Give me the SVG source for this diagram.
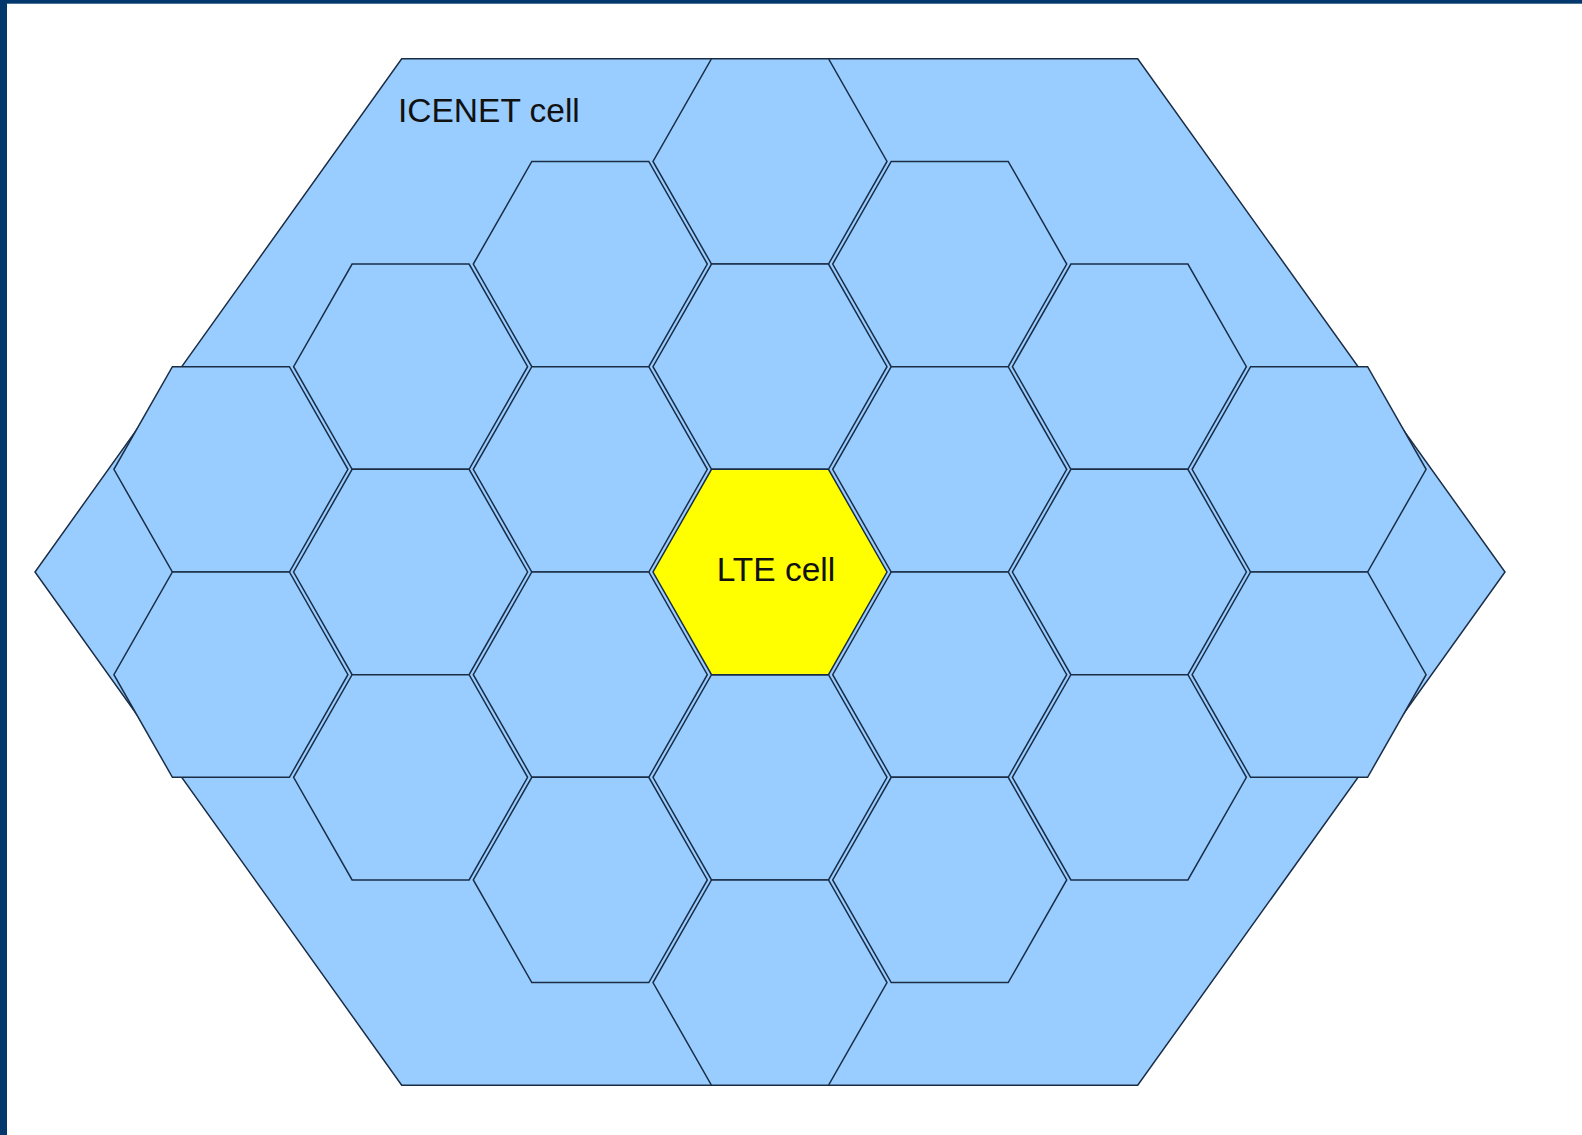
<svg xmlns="http://www.w3.org/2000/svg" width="1582" height="1135" viewBox="0 0 1582 1135">
<style>
.cell{fill:#99ccff;stroke:#1a2d45;stroke-width:1.5;stroke-linejoin:miter}
.lte{fill:#ffff00;stroke:#1a2d45;stroke-width:1.5}
.lbl{font-family:"Liberation Sans",Arial,sans-serif;font-size:33.5px;fill:#111111}
</style>
<defs>
<polygon id="hx" points="-58.5,-102.65 58.5,-102.65 117,0 58.5,102.65 -58.5,102.65 -117,0"/>
</defs>
<rect x="0" y="0" width="1582" height="1135" fill="#ffffff"/>
<rect x="0" y="0" width="1582" height="3.7" fill="#02386b"/>
<rect x="0" y="0" width="7" height="1135" fill="#02386b"/>
<g id="icenet-cell">
<polygon class="cell" points="401.7,58.75 1137.7,58.75 1505,572 1137.7,1085.25 401.7,1085.25 35,572"/>
<text class="lbl" x="398" y="122">ICENET cell</text>
</g>
<g id="cells">
<g id="c0r0"><use href="#hx" class="cell" x="770" y="161.4"/></g>
<g id="c0r1"><use href="#hx" class="cell" x="770" y="366.7"/></g>
<g id="c0r3"><use href="#hx" class="cell" x="770" y="777.3"/></g>
<g id="c0r4"><use href="#hx" class="cell" x="770" y="982.6"/></g>
<g id="cm1r0"><use href="#hx" class="cell" x="590.3" y="264.05"/></g>
<g id="cm1r1"><use href="#hx" class="cell" x="590.3" y="469.35"/></g>
<g id="cm1r2"><use href="#hx" class="cell" x="590.3" y="674.65"/></g>
<g id="cm1r3"><use href="#hx" class="cell" x="590.3" y="879.95"/></g>
<g id="cp1r0"><use href="#hx" class="cell" x="949.7" y="264.05"/></g>
<g id="cp1r1"><use href="#hx" class="cell" x="949.7" y="469.35"/></g>
<g id="cp1r2"><use href="#hx" class="cell" x="949.7" y="674.65"/></g>
<g id="cp1r3"><use href="#hx" class="cell" x="949.7" y="879.95"/></g>
<g id="cm2r0"><use href="#hx" class="cell" x="410.6" y="366.7"/></g>
<g id="cm2r1"><use href="#hx" class="cell" x="410.6" y="572"/></g>
<g id="cm2r2"><use href="#hx" class="cell" x="410.6" y="777.3"/></g>
<g id="cp2r0"><use href="#hx" class="cell" x="1129.4" y="366.7"/></g>
<g id="cp2r1"><use href="#hx" class="cell" x="1129.4" y="572"/></g>
<g id="cp2r2"><use href="#hx" class="cell" x="1129.4" y="777.3"/></g>
<g id="cm3r0"><use href="#hx" class="cell" x="230.9" y="469.35"/></g>
<g id="cm3r1"><use href="#hx" class="cell" x="230.9" y="674.65"/></g>
<g id="cp3r0"><use href="#hx" class="cell" x="1309.1" y="469.35"/></g>
<g id="cp3r1"><use href="#hx" class="cell" x="1309.1" y="674.65"/></g>
</g>
<g id="lte-cell">
<use href="#hx" class="lte" x="770" y="572"/>
<text class="lbl" x="716.7" y="581">LTE cell</text>
</g>
</svg>
